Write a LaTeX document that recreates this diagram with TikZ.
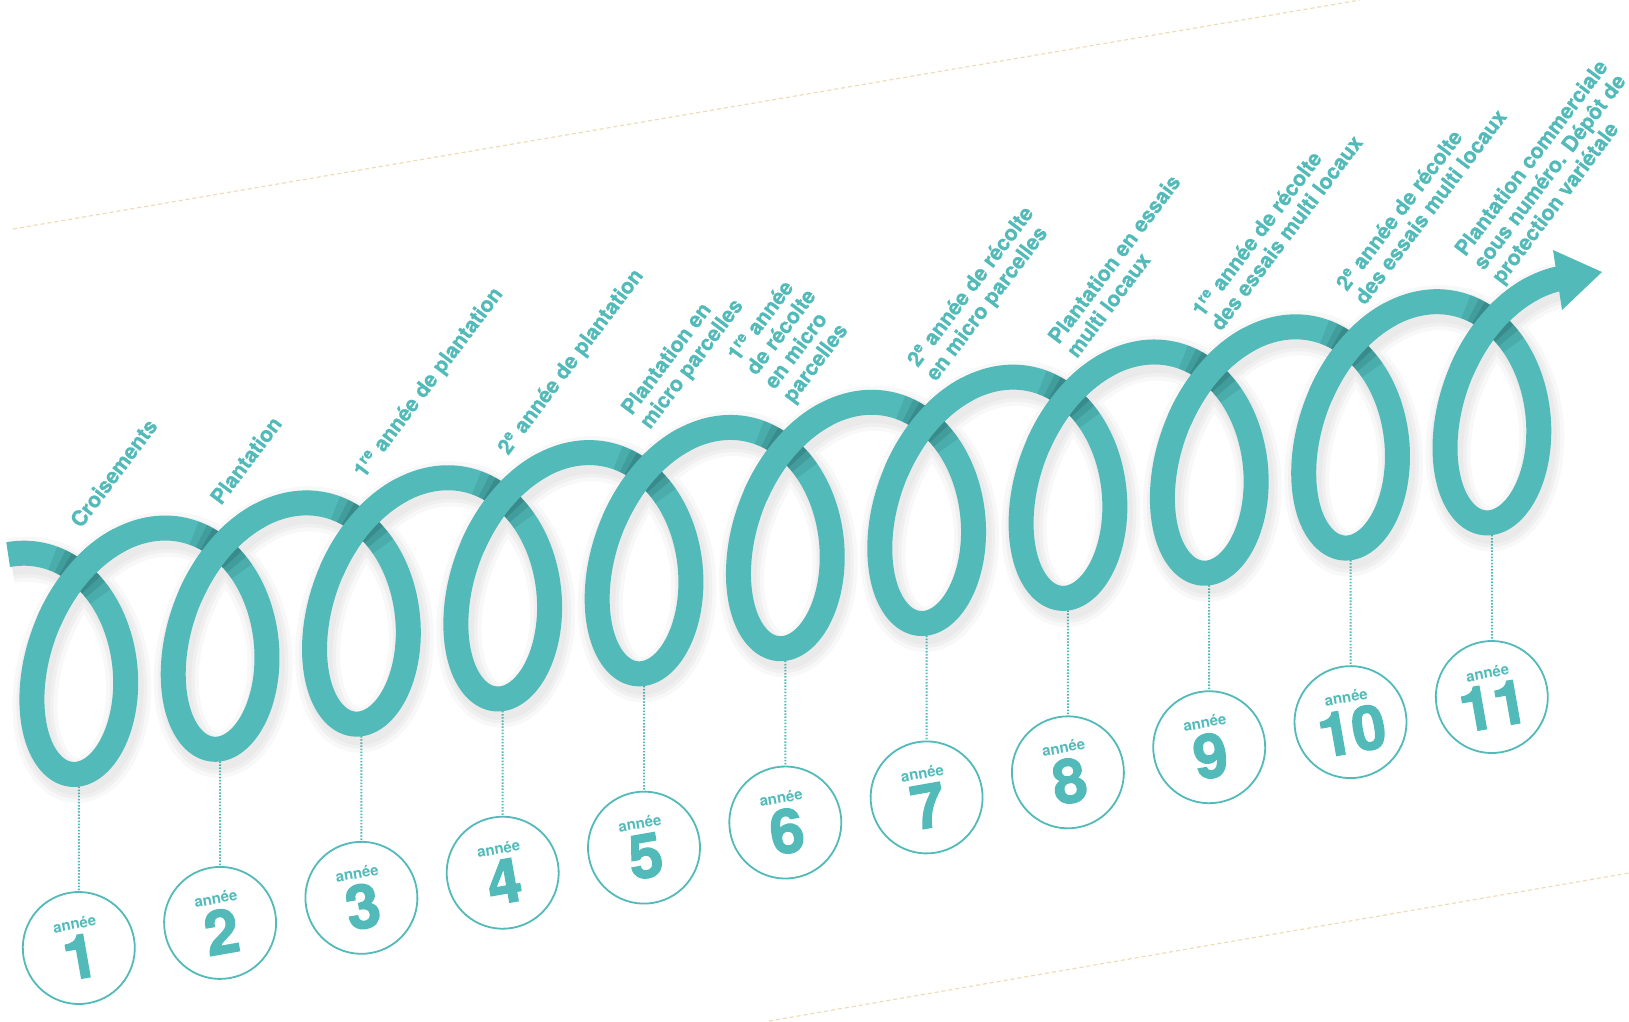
\documentclass[tikz,border=0pt]{standalone}
\usepackage{fontspec}
\setmainfont{TeX Gyre Heros}
\newfontfamily\stagefont{TeX Gyre Heros}[FakeBold=0.8]
\newfontfamily\heavyfont{TeX Gyre Heros}[FakeBold=2.2]
\usepackage{xcolor}
\usepackage{tikz}
\definecolor{Teal}{RGB}{82, 187, 185}
\definecolor{TealDark}{RGB}{20, 70, 72}
\definecolor{Sand}{RGB}{238, 220, 182}
\definecolor{Shade}{RGB}{70, 70, 70}
% centre line of the coil, parameter in radians, 0 = bottom of the first loop
\newcommand{\coil}[3]{plot[domain=#1:#2, samples=#3]
  ({78.8+22.49*\x-79*sin(\x r)}, {774-116*(1-cos(\x r))-0.178*(22.49*\x-79*sin(\x r))})}
\newcommand{\yearnum}[1]{{\heavyfont\bfseries\fontsize{61}{61}\selectfont #1}}

\begin{document}
\begin{tikzpicture}[
    x=1pt, y=-1pt,
    strand/.style={draw=Teal, line width=25pt, line join=round},
    halo/.style={draw=Shade, line join=round, opacity=0.04, shift={(3,6)}},
    ring/.style={circle, draw=Teal, line width=1.8pt, minimum size=112pt, inner sep=0pt,
                 align=center, text=Teal, font=\fontsize{15}{17}\selectfont\bfseries, rotate=10},
    stage/.style={rotate=53, anchor=base west, align=left, inner sep=0pt, text=Teal,
                  font=\stagefont\bfseries\fontsize{21.2}{23}\selectfont},
    tick/.style={draw=Teal, line width=2pt, dash pattern=on 1.5pt off 1.6pt},
    guide/.style={draw=Sand, line width=1.2pt, dash pattern=on 4pt off 3pt},
]
\useasboundingbox (0,0) rectangle (1629,1021);
\draw[guide] (13,229) -- (1360,0);
\draw[guide] (769,1021) -- (1629,873);

\coordinate (loop1) at (78.8,774);
\coordinate (loop2) at (220.1,748.85);
\coordinate (loop3) at (361.4,723.7);
\coordinate (loop4) at (502.7,698.55);
\coordinate (loop5) at (644,673.4);
\coordinate (loop6) at (785.3,648.25);
\coordinate (loop7) at (926.6,623.1);
\coordinate (loop8) at (1067.9,597.95);
\coordinate (loop9) at (1209.2,572.8);
\coordinate (loop10) at (1350.5,547.65);
\coordinate (loop11) at (1491.8,522.5);

\node[ring] (year1) at (78.8,948) {année\\[5pt]\yearnum{1}};
\node[ring] (year2) at (220.1,922.9) {année\\[5pt]\yearnum{2}};
\node[ring] (year3) at (361.4,897.8) {année\\[5pt]\yearnum{3}};
\node[ring] (year4) at (502.7,872.7) {année\\[5pt]\yearnum{4}};
\node[ring] (year5) at (644,847.6) {année\\[5pt]\yearnum{5}};
\node[ring] (year6) at (785.3,822.5) {année\\[5pt]\yearnum{6}};
\node[ring] (year7) at (926.6,797.4) {année\\[5pt]\yearnum{7}};
\node[ring] (year8) at (1067.9,772.3) {année\\[5pt]\yearnum{8}};
\node[ring] (year9) at (1209.2,747.2) {année\\[5pt]\yearnum{9}};
\node[ring] (year10) at (1350.5,722.1) {année\\[5pt]\yearnum{10}};
\node[ring] (year11) at (1491.8,697) {année\\[5pt]\yearnum{11}};

\draw[tick] (loop1) -- (year1);
\draw[tick] (loop2) -- (year2);
\draw[tick] (loop3) -- (year3);
\draw[tick] (loop4) -- (year4);
\draw[tick] (loop5) -- (year5);
\draw[tick] (loop6) -- (year6);
\draw[tick] (loop7) -- (year7);
\draw[tick] (loop8) -- (year8);
\draw[tick] (loop9) -- (year9);
\draw[tick] (loop10) -- (year10);
\draw[tick] (loop11) -- (year11);

% soft shadow, then the coil itself
\draw[halo, line width=45pt] \coil{-3.1416}{65.95}{1500};
\draw[halo, line width=37pt] \coil{-3.1416}{65.95}{1500};
\draw[halo, line width=30pt] \coil{-3.1416}{65.95}{1500};
\draw[strand] \coil{-3.1416}{65.95}{1500};
\fill[Teal] (1553,250) -- (1602,272) -- (1562,310) -- cycle;

% crossings: shade the strand below, redraw the strand on top
\foreach \k in {0,...,10} {
  \pgfmathsetmacro{\ud}{6.2832*\k-2.39}
  \pgfmathsetmacro{\uc}{6.2832*\k+2.39}
  \draw[strand, draw=TealDark, opacity=0.12] \coil{\ud-0.30}{\ud+0.30}{14};
  \draw[strand, draw=TealDark, opacity=0.15] \coil{\ud-0.22}{\ud+0.22}{12};
  \draw[strand, draw=TealDark, opacity=0.20] \coil{\ud-0.16}{\ud+0.16}{10};
  \draw[strand] \coil{\uc-0.45}{\uc+0.45}{20};
}

% labels sit on the start of their last line
\node[stage] (crossing) at (81,529) {Croisements};
\node[stage] (planting) at (221,506) {Plantation};
\node[stage] (firstPlant) at (364,479) {1\textsuperscript{re} année de plantation};
\node[stage] (secondPlant) at (508,456) {2\textsuperscript{e} année de plantation};
\node[stage] (microPlant) at (650,430) {Plantation en\\micro parcelles};
\node[stage] (firstMicro) at (793,404) {1\textsuperscript{re} année\\de récolte\\en micro\\parcelles};
\node[stage] (secondMicro) at (936,382) {2\textsuperscript{e} année de récolte\\en micro parcelles};
\node[stage] (trialPlant) at (1077,359) {Plantation en essais\\multi locaux};
\node[stage] (firstTrial) at (1221,332) {1\textsuperscript{re} année de récolte\\des essais multi locaux};
\node[stage] (secondTrial) at (1365,306) {2\textsuperscript{e} année de récolte\\des essais multi locaux};
\node[stage] (release) at (1502,285) {Plantation commerciale\\sous numéro. Dépôt de\\protection variétale};
\end{tikzpicture}
\end{document}
